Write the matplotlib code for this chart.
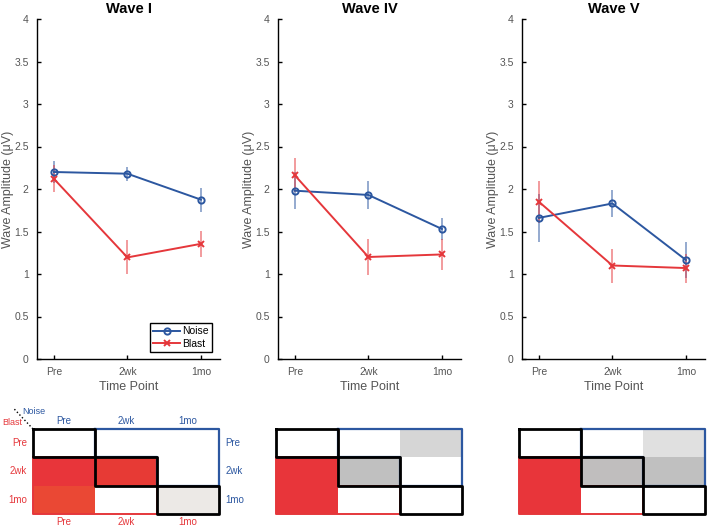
import numpy as np
import matplotlib
matplotlib.use("Agg")
import matplotlib.pyplot as plt
from matplotlib.colors import to_rgb

plt.rcParams['font.family'] = ['Liberation Sans', 'DejaVu Sans']

# ==========================================
# Data
# ==========================================

time_points = ["Pre", "2wk", "1mo"]
waves = ["Wave I", "Wave IV", "Wave V"]

noise_mean = [[2.20, 2.18, 1.875],
              [1.98, 1.93, 1.53],
              [1.66, 1.83, 1.165]]
noise_err = [[0.13, 0.08, 0.14],
             [0.215, 0.16, 0.13],
             [0.28, 0.16, 0.21]]

blast_mean = [[2.12, 1.195, 1.355],
              [2.16, 1.20, 1.23],
              [1.85, 1.10, 1.07]]
blast_err = [[0.16, 0.20, 0.155],
             [0.20, 0.21, 0.18],
             [0.25, 0.20, 0.17]]

# comparison grid colours (rows = Blast, cols = Noise)
wave1_cells = [["#ffffff", "#ffffff", "#ffffff"],
               ["#e8353a", "#e73a35", "#ffffff"],
               ["#ea4834", "#ffffff", "#ece9e6"]]
wave4_cells = [["#ffffff", "#ffffff", "#d6d6d6"],
               ["#e8353a", "#c0c0c0", "#ffffff"],
               ["#e8353a", "#ffffff", "#ffffff"]]
wave5_cells = [["#ffffff", "#ffffff", "#e0e0e0"],
               ["#e8353a", "#c0bebe", "#c0c0c0"],
               ["#e8353a", "#ffffff", "#ffffff"]]
cells = [wave1_cells, wave4_cells, wave5_cells]

blue = "#2c57a0"
red = "#e5373b"
gray = "#555555"

fig = plt.figure(figsize=(7.07, 5.29), dpi=100)

plot_lefts = [37, 278, 522]
grid_lefts = [33, 276, 519]
x = np.arange(1, 4)

# ==========================================
# Line plots
# ==========================================

for i in range(3):
    ax = fig.add_axes([plot_lefts[i] / 707, 1 - 359 / 529, 183 / 707, 340 / 529])

    ax.vlines(x, np.array(noise_mean[i]) - noise_err[i],
              np.array(noise_mean[i]) + noise_err[i],
              color=blue, alpha=0.5, lw=1.4)
    ax.vlines(x, np.array(blast_mean[i]) - blast_err[i],
              np.array(blast_mean[i]) + blast_err[i],
              color=red, alpha=0.5, lw=1.4)

    ax.plot(x, noise_mean[i], color=blue, lw=1.4, marker="o", ms=4.5,
            mfc="none", mew=1.4, label="Noise")
    ax.plot(x, blast_mean[i], color=red, lw=1.4, marker="x", ms=4.5,
            mew=1.4, label="Blast")

    ax.set_xlim(0.77, 3.26)
    ax.set_ylim(0, 4)
    ax.set_xticks(x)
    ax.set_xticklabels(time_points)
    ax.set_yticks(np.arange(0, 4.01, 0.5))
    ax.set_yticklabels(["%g" % v for v in np.arange(0, 4.01, 0.5)])

    ax.spines["top"].set_visible(False)
    ax.spines["right"].set_visible(False)
    ax.spines["left"].set_linewidth(1.0)
    ax.spines["bottom"].set_linewidth(1.0)
    ax.tick_params(direction="in", length=3, width=1, labelsize=7.5,
                   labelcolor=gray, pad=6)

    ax.set_xlabel("Time Point", fontsize=9, color=gray, labelpad=3)
    ax.set_ylabel("Wave Amplitude (μV)", fontsize=9, color=gray)
    ax.yaxis.set_label_coords(-0.125, 0.5)
    ax.set_title(waves[i], fontsize=10.5, fontweight="bold", pad=4)

    if i == 0:
        leg = ax.legend(loc="lower right", fontsize=7.5, fancybox=False,
                        framealpha=1, edgecolor="black", borderpad=0.3,
                        handlelength=2.6, handletextpad=0.2,
                        labelspacing=0.25, borderaxespad=0,
                        bbox_to_anchor=(0.956, 0.02))
        leg.get_frame().set_linewidth(1.0)

# ==========================================
# Comparison grids
# ==========================================

for i in range(3):
    g = fig.add_axes([grid_lefts[i] / 707, 1 - 514 / 529, 186 / 707, 85 / 529])
    rgb = np.array([[to_rgb(c) for c in row] for row in cells[i]])
    g.imshow(rgb, extent=(0, 3, 3, 0), aspect="auto", interpolation="nearest")
    g.set_xlim(0, 3)
    g.set_ylim(3, 0)
    g.axis("off")

    # Noise (upper) and Blast (lower) outlines
    g.plot([1, 3, 3, 2, 2, 1, 1], [0, 0, 2, 2, 1, 1, 0], color=blue,
           lw=1.6, clip_on=False)
    g.plot([0, 1, 1, 2, 2, 0, 0], [1, 1, 2, 2, 3, 3, 1], color=red,
           lw=1.4, clip_on=False)
    for k in range(3):
        g.plot([k, k + 1, k + 1, k, k], [k, k, k + 1, k + 1, k],
               color="black", lw=2.0, clip_on=False)

    if i == 0:
        for k, tp in enumerate(time_points):
            g.text(k + 0.5, -0.3, tp, color=blue, fontsize=7,
                   ha="center", va="center")
            g.text(3.1, k + 0.5, tp, color=blue, fontsize=7,
                   ha="left", va="center")
            g.text(-0.1, k + 0.5, tp, color=red, fontsize=7,
                   ha="right", va="center")
            g.text(k + 0.5, 3.28, tp, color=red, fontsize=7,
                   ha="center", va="center")
        g.text(-0.18, -0.6, "Noise", color=blue, fontsize=6.5,
               ha="left", va="center")
        g.text(-0.5, -0.22, "Blast", color=red, fontsize=6.5,
               ha="left", va="center")
        g.plot([-0.3, 0], [-0.7, 0], color="black", lw=1, ls=":",
               clip_on=False)

fig.savefig("out.png", dpi=100)
